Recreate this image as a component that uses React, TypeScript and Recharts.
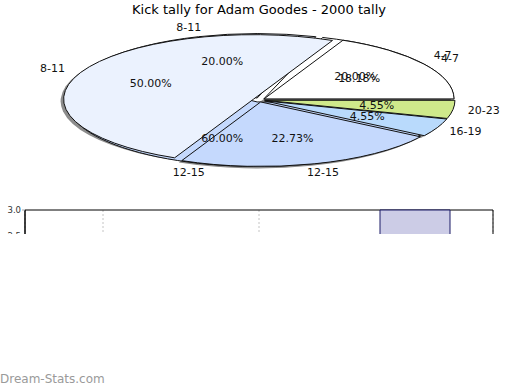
import { PieChart, Pie, Cell, BarChart, Bar, XAxis, YAxis, CartesianGrid, ReferenceArea } from "recharts";

// kick tally per disposal range, two seasons overlaid on the same pie
const ranges = ["4-7", "8-11", "12-15", "16-19", "20-23"];
const tally = [4, 11, 5, 1, 1];
const rangesPrev = ["4-7", "8-11", "12-15"];
const tallyPrev = [1, 1, 3];
const sliceColors = ["#ffffff", "#ebf2fe", "#c5d9fd", "#b9dafc", "#cfe98b"];

// bar strip underneath
const barRanges = ["4-7", "8-11", "12-15"];
const barKicks = [1, 1, 3];
const yTicks = [0, 0.5, 1, 1.5, 2, 2.5, 3];

const CX = 259;
const CY = 100;
const RX = 190;
const RY = 64.5;
const SQUASH = RY / RX;
const EXPLODE = 6;
const RAD = Math.PI / 180;

const pieRows = ranges.map((name, i) => ({ name, value: tally[i] }));
const pieRowsPrev = rangesPrev.map((name, i) => ({ name, value: tallyPrev[i] }));
const barRows = barRanges.map((range, i) => ({ range, kicks: barKicks[i] }));

// push each slice a little outwards along its middle angle (screen px)
function explode(values: number[], sx = 0, sy = 0) {
  const total = values.reduce((s, v) => s + v, 0);
  let acc = 0;
  return values.map((v) => {
    const mid = ((acc + v / 2) / total) * 2 * Math.PI;
    acc += v;
    return `${(EXPLODE * Math.cos(mid) + sx).toFixed(2)}px ${(-EXPLODE * Math.sin(mid) * SQUASH + sy).toFixed(2)}px`;
  });
}

const offsets = explode(tally);
const offsetsPrev = explode(tallyPrev);
const offsetsShadow = explode(tally, -3, 2);

const textStyle = { fontSize: 11, fill: "#111", fontFamily: "DejaVu Sans" };

function sliceLabel(p: any) {
  const a = p.midAngle * RAD;
  const c = Math.cos(a);
  const s = Math.sin(a);
  return (
    <g>
      <text x={CX + 119 * c} y={CY - 40 * s} textAnchor="middle" dominantBaseline="central" style={textStyle}>
        {(p.percent * 100).toFixed(2)}%
      </text>
      <text x={CX + 227 * c} y={CY - 76 * s} textAnchor="middle" dominantBaseline="central" style={textStyle}>
        {p.name}
      </text>
    </g>
  );
}

const css = `
.pie3d .recharts-sector {
  transform-origin: ${CX}px ${CY}px;
  transform: scaleY(${SQUASH});
  vector-effect: non-scaling-stroke;
}
`;

export default function App() {
  return (
    <div style={{ position: "absolute", left: 0, top: 0, width: 520, height: 390, background: "#fff", fontFamily: "DejaVu Sans" }}>
      <style>{css}</style>
      <div style={{ position: "absolute", left: 0, top: 2, width: 518, textAlign: "center", fontSize: 13, color: "#000" }}>
        Kick tally for Adam Goodes - 2000 tally
      </div>

      <div className="pie3d" style={{ position: "absolute", left: 0, top: 0 }}>
        <PieChart width={520} height={190} margin={{ top: 0, right: 0, bottom: 0, left: 0 }}>
          {/* shadow */}
          <Pie data={pieRows} dataKey="value" nameKey="name" cx={CX} cy={CY} outerRadius={RX} startAngle={0} endAngle={360} fill="#8c8c8c" stroke="none" isAnimationActive={false}>
            {pieRows.map((r, i) => (
              <Cell key={r.name} fill="#8c8c8c" style={{ translate: offsetsShadow[i] } as any} />
            ))}
          </Pie>
          <Pie data={pieRowsPrev} dataKey="value" nameKey="name" cx={CX} cy={CY} outerRadius={RX} startAngle={0} endAngle={360} stroke="#111" strokeWidth={1} isAnimationActive={false}>
            {pieRowsPrev.map((r, i) => (
              <Cell key={r.name} fill={sliceColors[i]} style={{ translate: offsetsPrev[i] } as any} />
            ))}
          </Pie>
          <Pie data={pieRows} dataKey="value" nameKey="name" cx={CX} cy={CY} outerRadius={RX} startAngle={0} endAngle={360} stroke="#111" strokeWidth={1} label={sliceLabel} labelLine={false} isAnimationActive={false}>
            {pieRows.map((r, i) => (
              <Cell key={r.name} fill={sliceColors[i]} style={{ translate: offsets[i] } as any} />
            ))}
          </Pie>
          {/* labels of the earlier tally sit on top */}
          <Pie data={pieRowsPrev} dataKey="value" nameKey="name" cx={CX} cy={CY} outerRadius={RX} startAngle={0} endAngle={360} fill="none" stroke="none" label={sliceLabel} labelLine={false} isAnimationActive={false} />
        </PieChart>
      </div>

      <div style={{ position: "absolute", left: 0, top: 200, width: 520, height: 34, overflow: "hidden" }}>
        <BarChart width={520} height={200} data={barRows} margin={{ top: 10, right: 27, bottom: 4, left: 0 }}>
          <CartesianGrid horizontal={false} stroke="#c4c4c4" strokeDasharray="2 2" />
          <XAxis dataKey="range" tickFormatter={() => ""} tick={{ fontSize: 8 }} />
          <YAxis
            width={25}
            domain={[0, 3]}
            ticks={yTicks}
            tickFormatter={(v: number) => v.toFixed(1)}
            tick={{ fontSize: 8.5, fill: "#333" }}
            tickSize={3}
            tickMargin={1}
            axisLine={{ stroke: "#000" }}
            tickLine={{ stroke: "#aaa" }}
          />
          <Bar dataKey="kicks" fill="#ccccE6" stroke="#1b1b66" barSize={70} isAnimationActive={false} />
          <ReferenceArea y1={0} y2={3} fill="none" fillOpacity={0} stroke="#000" strokeWidth={1} />
        </BarChart>
      </div>

      <div style={{ position: "absolute", left: 0, top: 372, fontSize: 12, color: "#9a9a9a" }}>Dream-Stats.com</div>
    </div>
  );
}
